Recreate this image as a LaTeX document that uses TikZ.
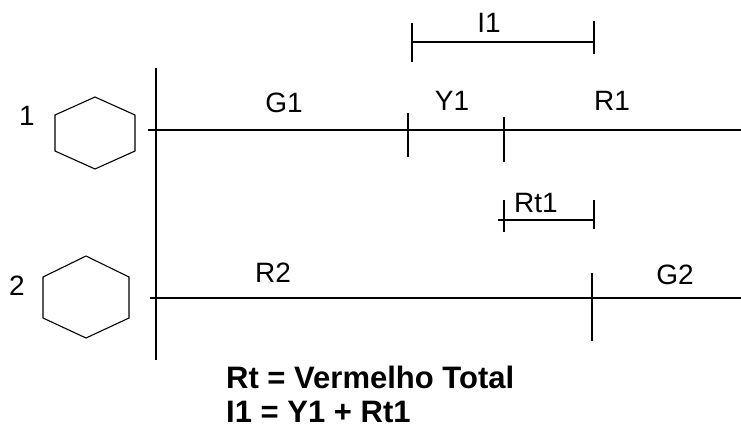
\documentclass[tikz,border=0pt]{standalone}
\usepackage{fontspec}
\setmainfont{Liberation Sans}
\usetikzlibrary{positioning}

\begin{document}
\begin{tikzpicture}[
    x=1pt, y=-1pt,
    wire/.style={line width=1.6pt},
    hex/.style={line width=1.1pt, line join=miter},
    lbl/.style={anchor=base, inner sep=0pt, font=\fontsize{28}{30}\selectfont},
    note/.style={anchor=base west, inner sep=0pt, font=\bfseries\fontsize{31}{34}\selectfont}
]
  \useasboundingbox (0,0) rectangle (741,432);

  % signal groups
  \draw[hex] (95,97) -- (135,115) -- (135,151) -- (95,169) -- (55,151) -- (55,115) -- cycle;
  \draw[hex] (86,256) -- (129,277) -- (129,318) -- (86,338) -- (43,318) -- (43,277) -- cycle;
  \node[lbl] (n1) at (27,125) {1};
  \node[lbl] (n2) at (17,295) {2};

  % time lines
  \coordinate (top) at (156,68);
  \coordinate (bot) at (156,360);
  \coordinate (a1) at (148,130);
  \coordinate (b1) at (741,130);
  \coordinate (a2) at (150,298);
  \coordinate (b2) at (741,298);
  \draw[wire] (top) -- (bot);
  \draw[wire] (a1) -- (b1);
  \draw[wire] (a2) -- (b2);

  % phase marks
  \coordinate (y1s) at (408,113);  \coordinate (y1e) at (408,157);
  \coordinate (r1s) at (504,117);  \coordinate (r1e) at (504,162);
  \coordinate (g2s) at (592,273);  \coordinate (g2e) at (592,341);
  \draw[wire] (y1s) -- (y1e);
  \draw[wire] (r1s) -- (r1e);
  \draw[wire] (g2s) -- (g2e);

  % intervals
  \coordinate (i1a) at (412,42);   \coordinate (i1b) at (594,42);
  \coordinate (rta) at (498,220);  \coordinate (rtb) at (594,220);
  \draw[wire] (i1a) -- (i1b);
  \draw[wire] (412,23) -- (412,62);
  \draw[wire] (594,21) -- (594,54);
  \draw[wire] (rta) -- (rtb);
  \draw[wire] (504,200) -- (504,232);
  \draw[wire] (594,200) -- (594,229);

  \node[lbl] (g1) at (284,112) {G1};
  \node[lbl] (y1) at (452,110) {Y1};
  \node[lbl] (r1) at (612,110) {R1};
  \node[lbl] (i1) at (489,32) {I1};
  \node[lbl] (rt1) at (536,212) {Rt1};
  \node[lbl] (r2) at (273,282) {R2};
  \node[lbl] (g2) at (675,284) {G2};

  \node[note] (leg1) at (226,388) {Rt = Vermelho Total};
  \node[note] (leg2) at (226,422) {I1 = Y1 + Rt1};
\end{tikzpicture}
\end{document}
